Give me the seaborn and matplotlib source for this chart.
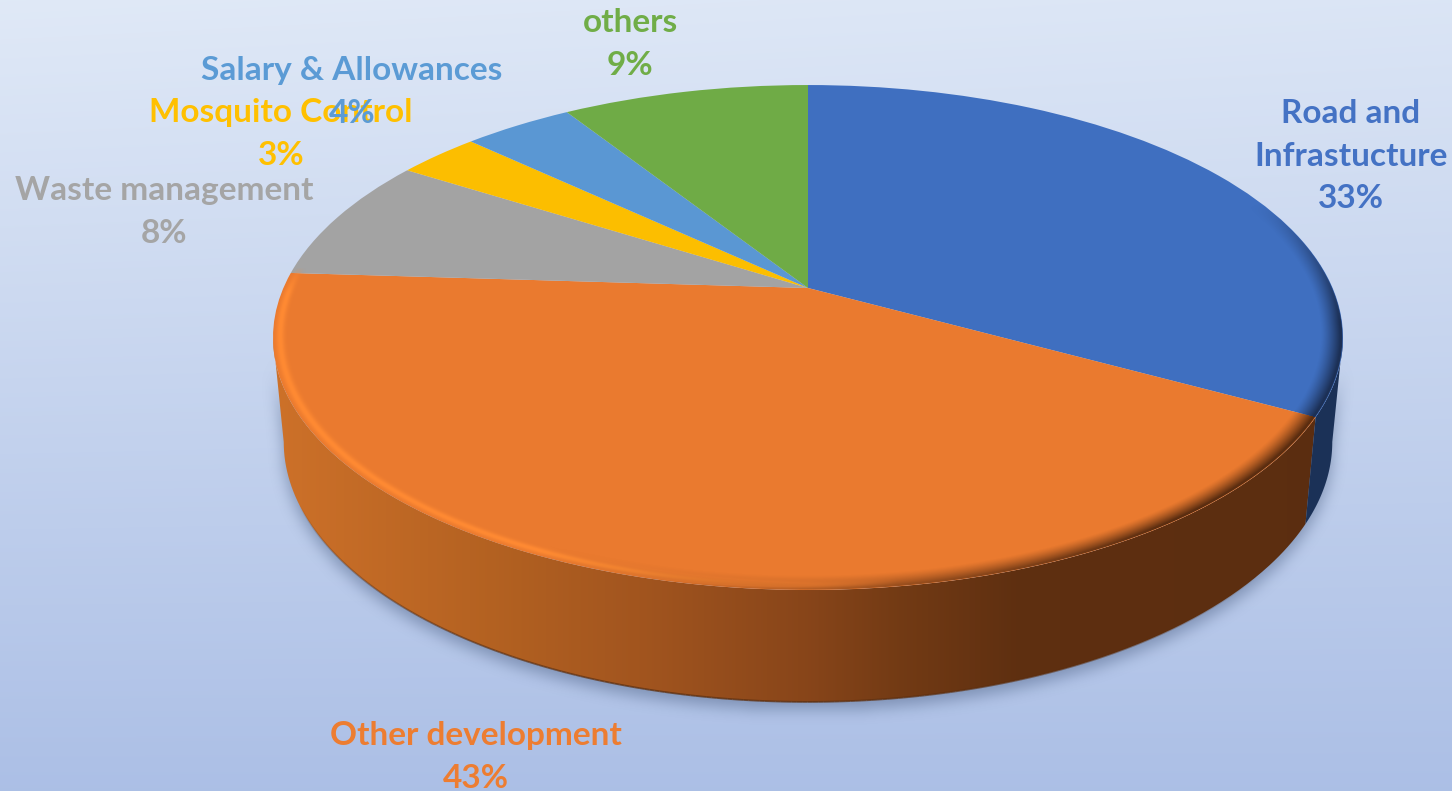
import numpy as np
import matplotlib
matplotlib.use("Agg")
import matplotlib.pyplot as plt
from matplotlib.collections import LineCollection
from matplotlib.patches import PathPatch
from matplotlib.path import Path
from matplotlib.transforms import Transform
import seaborn as sns

# Budget shares, clockwise from twelve o'clock
CATEGORIES = ["Road and\nInfrastucture", "Other development", "Waste management",
              "Mosquito Control", "Salary & Allowances", "others"]
SHARES = [33, 43, 8, 3, 4, 9]

# Colours and layout
SLICE_COLOURS = ["#3f6fc0", "#ea7a2f", "#a3a3a3", "#fcbe00", "#5a97d3", "#6fab46"]
TEXT_COLOURS = ["#4472c4", "#ed7d31", "#a5a5a5", "#ffc000", "#5b9bd5", "#70ad47"]
LABEL_ANCHORS = [(1351, 156), (476, 757), (164, 212), (281, 134), (352, 92), (630, 44)]
W, H = 1452, 791
CX, CY, RX = 808.0, 288.0, 524.6
TILT_C, TILT_A = 0.196, -186.3
WALL_X_SCALE, WALL_Y_SCALE, WALL_Y_SHIFT = 0.98, 1.03, 94.3


class Tilt(Transform):
    """Perspective view of the unit disc lying on a table."""
    input_dims = output_dims = 2
    is_separable = False
    has_inverse = False

    def transform_non_affine(self, values):
        values = np.asarray(values, dtype=float)
        x, y = values[..., 0], values[..., 1]
        den = 1 + TILT_C * y
        return np.stack([CX + RX * x / den, (TILT_A * y + CY) / den], axis=-1)


tilt = Tilt()


def rim(theta, r=1.0):
    """Screen position of a clockwise angle (degrees from the top) on the disc."""
    t = np.radians(theta)
    return tilt.transform_non_affine(np.column_stack([r * np.sin(t), r * np.cos(t)]))


def to_base(points):
    """Drop points from the top face to the bottom face of the slab."""
    out = points.copy()
    out[:, 0] = CX + WALL_X_SCALE * (points[:, 0] - CX)
    out[:, 1] = WALL_Y_SCALE * points[:, 1] + WALL_Y_SHIFT
    return out


def soften(img, size):
    """Repeated box filter along both axes."""
    kernel = np.ones(size) / size
    for _ in range(3):
        for axis in (0, 1):
            img = np.apply_along_axis(lambda m: np.convolve(m, kernel, mode="same"), axis, img)
    return img


sns.set_theme(style="white")
palette = sns.color_palette(SLICE_COLOURS)
plt.rcParams["font.family"] = ["Lato", "DejaVu Sans"]

fig = plt.figure(figsize=(W / 100, H / 100), dpi=100)
ax = fig.add_axes([0, 0, 1, 1])

# Top face, drawn by pie and bent into perspective
wedges, _ = ax.pie(SHARES, colors=palette, startangle=90, counterclock=False, radius=1.0,
                   wedgeprops={"linewidth": 0})
for w in wedges:
    w.set_transform(tilt + ax.transData)
    w.set_zorder(5)

ax.set_aspect("auto")
ax.set_xlim(0, W)
ax.set_ylim(H, 0)
ax.set_axis_off()

# Page background
yy, xx = np.mgrid[0:1:H * 1j, 0:1:W * 1j]
mix = np.clip(yy * 0.95 + 0.09 * xx * (1 - yy), 0, 1)[..., None]
bg_top, bg_bottom = np.array([0.878, 0.914, 0.968]), np.array([0.663, 0.741, 0.898])
ax.imshow(bg_top + (bg_bottom - bg_top) * mix, extent=(0, W, H, 0), aspect="auto", zorder=0)

# Slab outline, from the rightmost to the leftmost point of the rim
ends = np.cumsum(SHARES) * 3.6
left_turn = np.degrees(np.arccos(-TILT_C))
front = np.linspace(left_turn, 360 - left_turn, 500)
top_front = rim(front)
wall_poly = np.vstack([top_front, to_base(top_front)[::-1]])

# Soft cast shadow around the slab
sx, sy = np.meshgrid(np.arange(0, W, 2) + 1, np.arange(0, H, 2) + 1)
sil = Path(wall_poly + [0, 9]).contains_points(np.column_stack([sx.ravel(), sy.ravel()]))
sil = soften(sil.reshape(sx.shape).astype(float), 7)
shadow = np.zeros(sil.shape + (4,))
shadow[..., :3] = (0.30, 0.38, 0.52)
shadow[..., 3] = sil * 0.5
ax.imshow(shadow, extent=(0, W, H, 0), aspect="auto", zorder=1, interpolation="bilinear")

# Front wall of the large slice, lit from the left
stops_x = [285, 500, 650, 810, 900, 1020, 1310]
stops_rgb = np.array([[0.80, 0.44, 0.16], [0.70, 0.38, 0.13], [0.63, 0.33, 0.12],
                      [0.53, 0.27, 0.10], [0.45, 0.23, 0.08], [0.37, 0.185, 0.065],
                      [0.36, 0.18, 0.065]])
columns = np.arange(W) + 0.5
ramp = np.stack([np.interp(columns, stops_x, stops_rgb[:, i]) for i in range(3)], axis=-1)[None, ...]

split = ends[0]
orange_top = rim(np.linspace(split, 360 - left_turn, 400))
orange_poly = np.vstack([orange_top, to_base(orange_top)[::-1]])
orange_wall = ax.imshow(ramp, extent=(0, W, H, 0), aspect="auto", zorder=3)
orange_wall.set_clip_path(PathPatch(Path(orange_poly), transform=ax.transData))

blue_top = rim(np.linspace(left_turn, split, 80))
blue_poly = np.vstack([blue_top, to_base(blue_top)[::-1]])
ax.fill(blue_poly[:, 0], blue_poly[:, 1], color="#1b3157", lw=0, zorder=3)

# Dark seam along the foot of the wall, fading out at both ends
seam_angles = np.linspace(130, 245, 240)
foot = to_base(rim(seam_angles))
seam_alpha = 0.75 * np.sin(np.pi * (seam_angles[:-1] - 130) / 115) ** 0.7
seam_rgba = np.column_stack([np.tile([0.36, 0.18, 0.055], (len(seam_alpha), 1)), seam_alpha])
ax.add_collection(LineCollection(np.stack([foot[:-1], foot[1:]], axis=1), colors=seam_rgba,
                                 linewidths=1.3, zorder=4))

# Bevel on the rim, computed per pixel in disc coordinates:
# bright on the lit side, shaded towards the wall colour on the far side
py, px = np.mgrid[0:H, 0:W] + 0.5
v = (CY - py) / (TILT_C * py - TILT_A)
u = (px - CX) * (1 + TILT_C * v) / RX
radius = np.hypot(u, v)
theta = np.degrees(np.arctan2(u, v)) % 360

edge = np.clip((1.0 - radius) / 0.002, 0, 1)
lit = (np.clip((theta - 172) / 25, 0, 1) * np.clip((275 - theta) / 6, 0, 1)
       * np.exp(-((radius - 0.987) / 0.0075) ** 2))
dim = (np.clip((theta - 68) / 30, 0, 1) * np.clip((205 - theta) / 60, 0, 1)
       * np.clip((radius - 0.96) / 0.035, 0, 1) ** 1.3)
shade = np.where((theta < split)[..., None], np.array([0.11, 0.19, 0.34]), np.array([0.36, 0.18, 0.065]))
lit_weight = np.where(lit + dim > 0, lit / np.maximum(lit + dim, 1e-6), 0)[..., None]
bevel = np.zeros((H, W, 4))
bevel[..., :3] = lit_weight * np.array([1.0, 0.545, 0.2]) + (1 - lit_weight) * shade
bevel[..., 3] = np.maximum(lit, dim) * edge
ax.imshow(bevel, extent=(0, W, H, 0), aspect="auto", zorder=6, interpolation="nearest")

# Category labels with their shares
for i in range(len(CATEGORIES)):
    x, y = LABEL_ANCHORS[i]
    ax.text(x, y, f"{CATEGORIES[i]}\n{SHARES[i]}%", color=TEXT_COLOURS[i], fontsize=24,
            fontweight="bold", ha="center", va="center", linespacing=1.56,
            zorder=10, clip_on=False)

fig.savefig("out.png", dpi=100)
